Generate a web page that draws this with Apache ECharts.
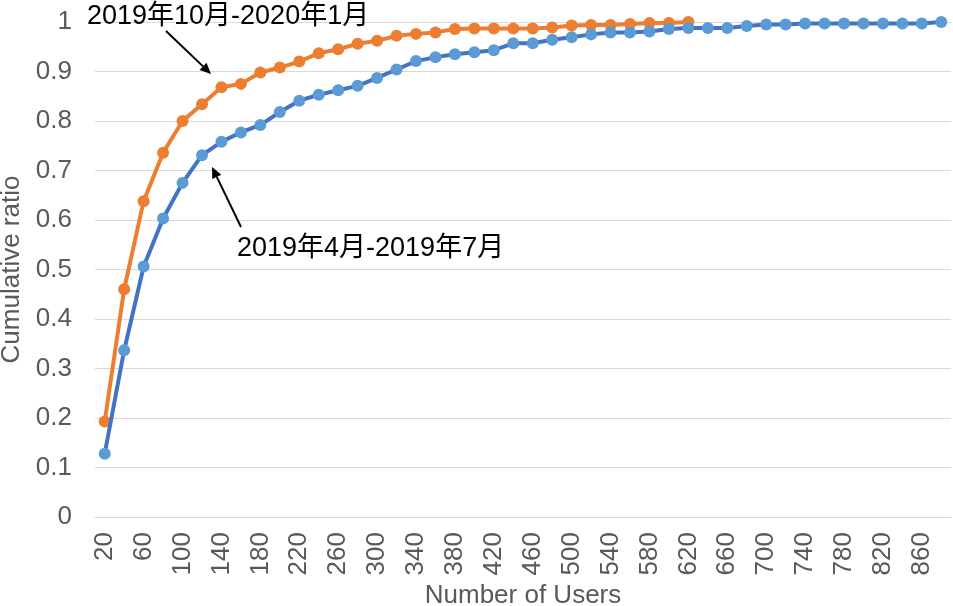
<!DOCTYPE html>
<html>
<head>
<meta charset="utf-8">
<script src="https://cdn.jsdelivr.net/npm/echarts@6/dist/echarts.min.js"></script>
<style>
html,body{margin:0;padding:0;background:#fff;}
#chart{width:953px;height:606px;}
</style>
</head>
<body>
<div id="chart"></div>
<script>
const categories = [20,40,60,80,100,120,140,160,180,200,220,240,260,280,300,320,340,360,380,400,420,440,460,480,500,520,540,560,580,600,620,640,660,680,700,720,740,760,780,800,820,840,860,880];
const seriesAprJul = [0.128,0.337,0.506,0.603,0.675,0.731,0.758,0.777,0.792,0.818,0.841,0.853,0.862,0.871,0.887,0.904,0.921,0.929,0.935,0.939,0.943,0.957,0.957,0.964,0.969,0.975,0.979,0.979,0.981,0.986,0.988,0.988,0.988,0.992,0.995,0.995,0.997,0.997,0.997,0.997,0.997,0.997,0.997,1.0];
const seriesOctJan = [0.193,0.46,0.638,0.736,0.8,0.834,0.868,0.875,0.898,0.908,0.92,0.937,0.945,0.956,0.962,0.972,0.976,0.979,0.986,0.987,0.987,0.987,0.987,0.989,0.993,0.994,0.994,0.996,0.998,0.998,1.0];
const yTicks = [0,0.1,0.2,0.3,0.4,0.5,0.6,0.7,0.8,0.9,1];
const labelA = '2019年10月-2020年1月';
const labelB = '2019年4月-2019年7月';

const FONT = '"Liberation Sans", Arial, "Noto Sans CJK JP", sans-serif';
const chart = echarts.init(document.getElementById('chart'));

function arrow(x1, y1, x2, y2) {
  const ang = Math.atan2(y2 - y1, x2 - x1);
  const L = 11, W = 5;
  const bx = x2 - L * Math.cos(ang), by = y2 - L * Math.sin(ang);
  const px = -Math.sin(ang) * W, py = Math.cos(ang) * W;
  return [
    {type:'line', shape:{x1:x1,y1:y1,x2:bx,y2:by}, style:{stroke:'#000',lineWidth:2}, z:100},
    {type:'polygon', shape:{points:[[x2,y2],[bx+px,by+py],[bx-px,by-py]]}, style:{fill:'#000'}, z:100}
  ];
}

chart.setOption({
  animation: false,
  backgroundColor: '#fff',
  grid: {left: 95, right: 2, top: 22, bottom: 89, containLabel: false, outerBoundsMode: 'none'},
  xAxis: {
    type: 'category',
    data: categories,
    boundaryGap: true,
    axisLine: {show: true, lineStyle: {color: '#d9d9d9', width: 1}},
    axisTick: {show: false},
    axisLabel: {rotate: 90, interval: 1, fontSize: 26, color: '#595959', margin: 15, fontFamily: FONT},
    name: 'Number of Users',
    nameLocation: 'middle',
    nameGap: 57,
    nameTextStyle: {fontSize: 26, color: '#595959', fontFamily: FONT}
  },
  yAxis: {
    type: 'value',
    min: 0, max: 1, interval: 0.1,
    axisLine: {show: false},
    axisTick: {show: false},
    axisLabel: {fontSize: 26, color: '#595959', margin: 23, fontFamily: FONT,
      formatter: function (v) { const t = yTicks.find(function (k) { return Math.abs(k - v) < 1e-9; }); return String(t !== undefined ? t : v); }},
    splitLine: {lineStyle: {color: '#d9d9d9', width: 1}},
    name: 'Cumulative ratio',
    nameLocation: 'middle',
    nameGap: 66,
    nameTextStyle: {fontSize: 26, color: '#595959', fontFamily: FONT}
  },
  series: [
    {
      name: labelA, type: 'line', data: seriesOctJan,
      symbol: 'circle', symbolSize: 12, showSymbol: true,
      lineStyle: {color: '#ED7D31', width: 4},
      itemStyle: {color: '#ED7D31'}, z: 2
    },
    {
      name: labelB, type: 'line', data: seriesAprJul,
      symbol: 'circle', symbolSize: 12, showSymbol: true,
      lineStyle: {color: '#4472C4', width: 4},
      itemStyle: {color: '#5B9BD5'}, z: 3
    }
  ],
  graphic: [
    {type:'text', left: 87, top: 3, style:{text: labelA, fontSize: 27, fill:'#000', fontFamily: FONT}, z:100},
    {type:'text', left: 237, top: 235, style:{text: labelB, fontSize: 27, fill:'#000', fontFamily: FONT}, z:100}
  ].concat(arrow(166, 31, 211, 74)).concat(arrow(241, 227, 212, 167))
});
</script>
</body>
</html>
